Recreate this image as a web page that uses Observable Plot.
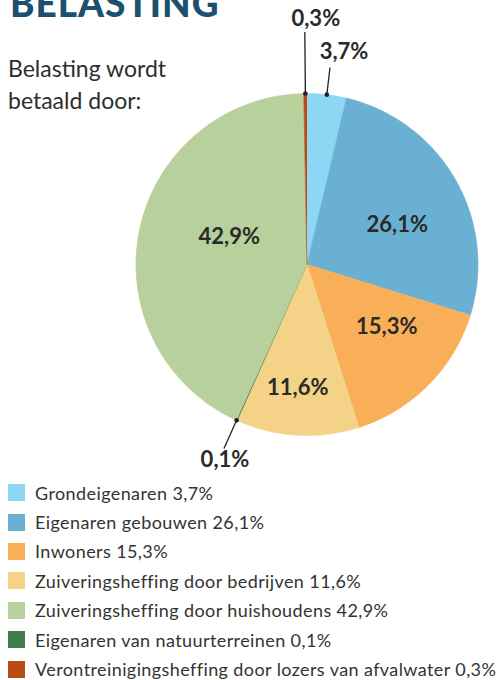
<!DOCTYPE html>
<html>
<head>
<meta charset="utf-8">
<script src="https://cdn.jsdelivr.net/npm/d3@7"></script>
<script src="https://cdn.jsdelivr.net/npm/@observablehq/plot@0.6"></script>
<style>
  body { margin: 0; background: #fff; }
  #wrap { position: relative; width: 497px; height: 680px; overflow: hidden; font-family: Lato, "Open Sans", sans-serif; }
  #chart { position: absolute; left: 0; top: 0; }
  #title { position: absolute; left: 10px; top: -16px; font-size: 37px; line-height: 1; font-weight: 900; color: #1d4f6e; letter-spacing: 1px; white-space: nowrap; }
  #sub { position: absolute; left: 8px; top: 52px; font-size: 23px; line-height: 32px; color: #2e2e2e; }
  #legend { position: absolute; left: 8px; top: 478px; }
  .row { display: flex; align-items: center; height: 29.4px; font-size: 18px; letter-spacing: 0.4px; color: #333; white-space: nowrap; }
  .sw { width: 17px; height: 17px; margin-right: 10px; flex: none; }
</style>
</head>
<body>
<div id="wrap">
  <div id="chart"></div>
  <div id="title">BELASTING</div>
  <div id="sub">Belasting wordt<br>betaald door:</div>
  <div id="legend"></div>
</div>
<script>
// ---- data (legend order) ----
const categories = [
  "Grondeigenaren",
  "Eigenaren gebouwen",
  "Inwoners",
  "Zuiveringsheffing door bedrijven",
  "Zuiveringsheffing door huishoudens",
  "Eigenaren van natuurterreinen",
  "Verontreinigingsheffing door lozers van afvalwater"
];
const values = [3.7, 26.1, 15.3, 11.6, 42.9, 0.1, 0.3];
const colors = ["#8dd7f5", "#6ab0d2", "#f9af57", "#f4d388", "#b8d09b", "#3e7c4c", "#b94a16"];
// order of slices clockwise from 12 o'clock (indices into categories)
const pieOrder = [0, 1, 2, 3, 5, 4, 6];
const outsideLabels = ["Grondeigenaren", "Eigenaren van natuurterreinen", "Verontreinigingsheffing door lozers van afvalwater"];

// ---- layout ----
const W = 497, H = 680;
const cx = 306.5, cy = 264, R = 171;
const innerNudge = { // [dx, dy] for inside labels relative to slice centroid
  "Eigenaren gebouwen": [2, 11],
  "Inwoners": [2, -15],
  "Zuiveringsheffing door bedrijven": [-3, 12],
  "Zuiveringsheffing door huishoudens": [3, -11]
};
const outerLayout = { // leader length (x R) and text offset from leader end
  "Grondeigenaren": { lead: 1.16, dx: 14, dy: -16 },
  "Verontreinigingsheffing door lozers van afvalwater": { lead: 1.36, dx: 11, dy: -13 },
  "Eigenaren van natuurterreinen": { lead: 1.18, dx: 1, dy: 12 }
};

const fmt = v => v.toFixed(1).replace(".", ",") + "%";

// ---- compute slices ----
const total = d3.sum(values);
const angle = d3.scaleLinear().domain([0, total]).range([0, 2 * Math.PI]);
let acc = 0;
const slices = pieOrder.map(i => {
  const a0 = angle(acc); acc += values[i]; const a1 = angle(acc);
  return { key: categories[i], value: values[i], label: fmt(values[i]), a0, a1, mid: (a0 + a1) / 2 };
});

const pts = [];
for (const s of slices) {
  pts.push({ key: s.key, x: cx, y: cy });
  const n = Math.max(2, Math.ceil((s.a1 - s.a0) / (Math.PI / 360)));
  for (let k = 0; k <= n; k++) {
    const a = s.a0 + (s.a1 - s.a0) * k / n;
    pts.push({ key: s.key, x: cx + R * Math.sin(a), y: cy - R * Math.cos(a) });
  }
}

const inner = slices.filter(s => !outsideLabels.includes(s.key)).map(s => {
  const half = (s.a1 - s.a0) / 2;
  const d = 2 * R * Math.sin(half) / (3 * half);
  const [ndx, ndy] = innerNudge[s.key] || [0, 0];
  return { label: s.label, x: cx + d * Math.sin(s.mid) + ndx, y: cy - d * Math.cos(s.mid) + ndy };
});

const outer = slices.filter(s => outsideLabels.includes(s.key)).map(s => {
  const L = outerLayout[s.key];
  const x1 = cx + R * Math.sin(s.mid), y1 = cy - R * Math.cos(s.mid);
  const x2 = cx + R * L.lead * Math.sin(s.mid), y2 = cy - R * L.lead * Math.cos(s.mid);
  return { label: s.label, x1, y1, x2, y2, tx: x2 + L.dx, ty: y2 + L.dy };
});

const chart = Plot.plot({
  width: W, height: H, margin: 0,
  style: { fontFamily: "Lato, sans-serif", background: "transparent", overflow: "visible" },
  x: { domain: [0, W], axis: null },
  y: { domain: [0, H], axis: null, reverse: true },
  color: { domain: categories, range: colors },
  marks: [
    Plot.line(pts, { x: "x", y: "y", z: "key", fill: "key", stroke: "key", strokeWidth: 0.6 }),
    Plot.text(inner, { x: "x", y: "y", text: "label", fontSize: 22, fontWeight: 700, fill: "#2a2a2a" }),
    Plot.link(outer, { x1: "x1", y1: "y1", x2: "x2", y2: "y2", stroke: "#222", strokeWidth: 1.3 }),
    Plot.dot(outer, { x: "x1", y: "y1", r: 2.3, fill: "#222" }),
    Plot.text(outer, { x: "tx", y: "ty", text: "label", fontSize: 22, fontWeight: 700, fill: "#2a2a2a" })
  ]
});
document.getElementById("chart").appendChild(chart);

// ---- legend ----
const legend = document.getElementById("legend");
categories.forEach((c, i) => {
  const row = document.createElement("div");
  row.className = "row";
  const sw = document.createElement("div");
  sw.className = "sw";
  sw.style.background = colors[i];
  const t = document.createElement("span");
  t.textContent = c + " " + fmt(values[i]);
  row.appendChild(sw); row.appendChild(t);
  legend.appendChild(row);
});
</script>
</body>
</html>
